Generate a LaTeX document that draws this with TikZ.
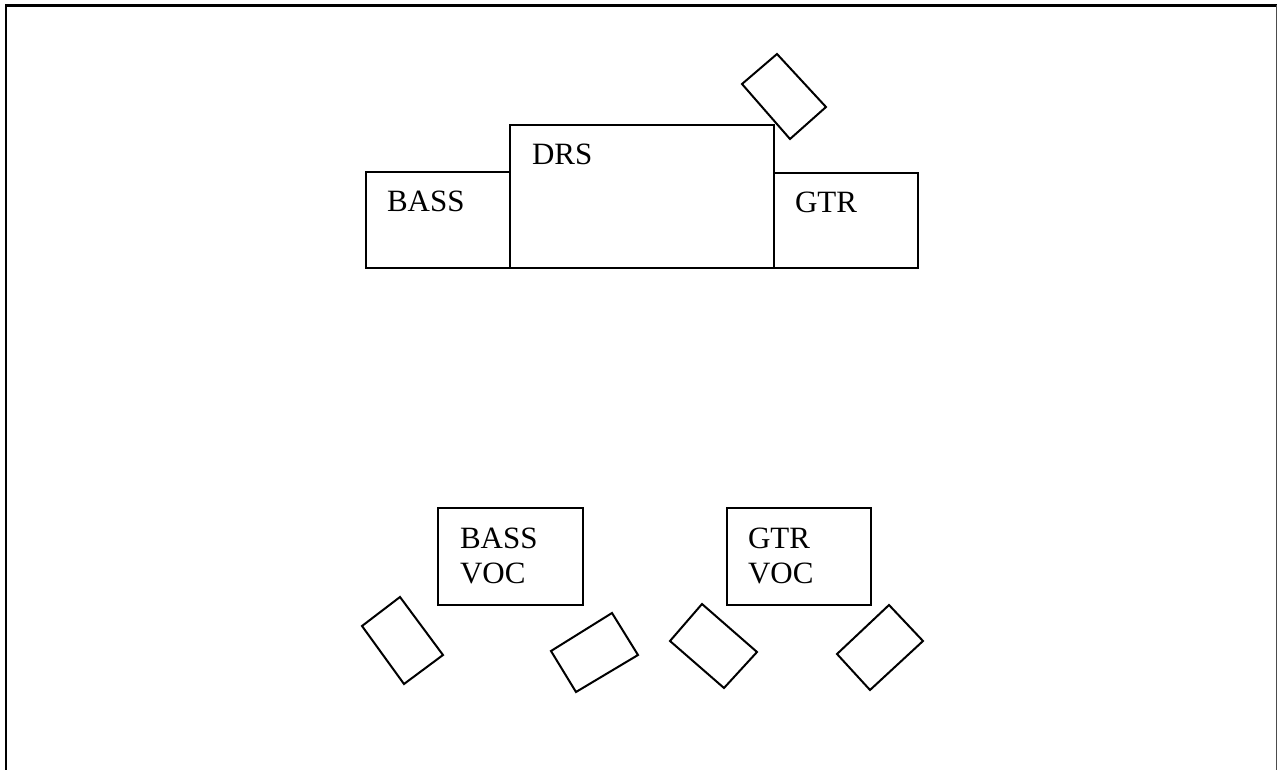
\documentclass[tikz,border=0pt]{standalone}
\usepackage{fontspec}
\setmainfont{Liberation Serif}
\begin{document}
\begin{tikzpicture}[x=1pt,y=-1pt,line width=2pt,line join=miter]
\tikzset{
  box/.style={draw, line width=2pt, inner sep=0pt, outer sep=0pt, anchor=north west},
  lbl/.style={inner sep=0pt, anchor=base west, align=left, font=\fontsize{31}{35}\selectfont},
  monitor/.style={draw, line width=2pt}
}
\useasboundingbox (0,0) rectangle (1278,770);
% frame (open at the bottom)
\draw[line width=2.4pt] (6,770) -- (6,5.5) -- (1277,5.5);
\draw[line width=1.4pt, black!70] (1276.5,5.5) -- (1276.5,770);
% back line
\node[box, minimum width=144pt, minimum height=96pt] (bass) at (366,172) {};
\node[box, minimum width=264pt, minimum height=143pt] (drs) at (510,125) {};
\node[box, minimum width=144pt, minimum height=95pt] (gtr) at (774,173) {};
\node[lbl] (bassl) at (386,212) {BASS};
\node[lbl] (drsl) at (531,165) {DRS};
\node[lbl] (gtrl) at (794,213) {GTR};
% vocal positions
\node[box, minimum width=145pt, minimum height=97pt] (bassvoc) at (438,508) {};
\node[box, minimum width=144pt, minimum height=97pt] (gtrvoc) at (727,508) {};
\node[lbl] (bassvocl) at (459,583) {BASS\\VOC};
\node[lbl] (gtrvocl) at (747,583) {GTR\\VOC};
% monitors
\draw[monitor] (742,84) -- (777,54) -- (826,107) -- (790,139) -- cycle;
\draw[monitor] (400,597) -- (362,626) -- (404,684) -- (443,655) -- cycle;
\draw[monitor] (551,651) -- (612,613) -- (638,655) -- (576,692) -- cycle;
\draw[monitor] (670,641) -- (702,604) -- (757,652) -- (724,688) -- cycle;
\draw[monitor] (889,605) -- (923,641) -- (870,690) -- (837,654) -- cycle;
\end{tikzpicture}
\end{document}
